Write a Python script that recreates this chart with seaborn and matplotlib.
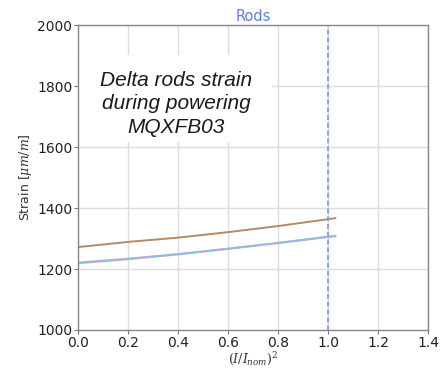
import matplotlib
matplotlib.use("Agg")
import matplotlib.pyplot as plt
from matplotlib.patches import Rectangle
import seaborn as sns
import pandas as pd

# Normalised current squared and measured rod strain for each gauge
current_sq = [0.0, 0.2, 0.4, 0.6, 0.8, 1.03]
strain_rod_a = [1272, 1289, 1303, 1321, 1341, 1367]
strain_rod_b = [1219, 1232, 1248, 1266, 1285, 1308]
strain_rod_c = [1221, 1234, 1249, 1267, 1286, 1309]
rod_names = ["Rod A", "Rod B", "Rod C"]
rod_colors = ["#b58a66", "#f2a0a8", "#8fbce6"]
nominal = 1.0

sns.set_style("whitegrid")
plt.rcParams["font.family"] = ["DejaVu Sans"]
plt.rcParams["mathtext.fontset"] = "dejavuserif"

frames = []
for name, vals in zip(rod_names, [strain_rod_a, strain_rod_b, strain_rod_c]):
    frames.append(pd.DataFrame({"x": current_sq, "strain": vals, "rod": name}))
df = pd.concat(frames, ignore_index=True)

fig = plt.figure(figsize=(4.47, 3.69), dpi=100)
ax = fig.add_axes([0.1745, 0.1057, 0.783, 0.826])

sns.lineplot(data=df, x="x", y="strain", hue="rod", palette=rod_colors,
             ax=ax, legend=False, linewidth=1.4)
ax.axvline(nominal, color="#86a4f0", linestyle=(0, (2.5, 1.5)), linewidth=1.4)

ax.set_xlim(0, 1.4)
ax.set_ylim(1000, 2000)
ax.set_xticks([0.0, 0.2, 0.4, 0.6, 0.8, 1.0, 1.2, 1.4])
ax.set_yticks([1000, 1200, 1400, 1600, 1800, 2000])
ax.xaxis.set_major_formatter(matplotlib.ticker.FormatStrFormatter("%.1f"))
ax.tick_params(axis="both", labelsize=10, colors="#777777", length=3,
               pad=1, left=True, bottom=True)
ax.tick_params(axis="both", labelcolor="#222222")
ax.grid(True, color="#dcdcdc", linewidth=1)
for s in ax.spines.values():
    s.set_color("#888888")
    s.set_linewidth(1.0)

ax.set_xlabel(r"$(I/I_{nom})^2$", fontsize=9, color="#333333", labelpad=1)
ax.set_ylabel(r"Strain [$\mu m/m$]", fontsize=9, color="#333333", labelpad=2)
ax.set_title("Rods", color="#5a7fe6", fontsize=10.5, pad=3)

# White panel behind the annotation, hiding the grid there
ax.add_patch(Rectangle((0.0, 0.616), 0.554, 0.286, transform=ax.transAxes,
                       facecolor="white", edgecolor="none", zorder=2.5))
ax.text(0.28, 0.742, "Delta rods strain\nduring powering\nMQXFB03",
        transform=ax.transAxes, ha="center", va="center", fontsize=15,
        style="italic", family="Liberation Sans", color="#1a1a1a",
        linespacing=1.3, zorder=3)

fig.savefig("out.png", dpi=100, facecolor="white")
